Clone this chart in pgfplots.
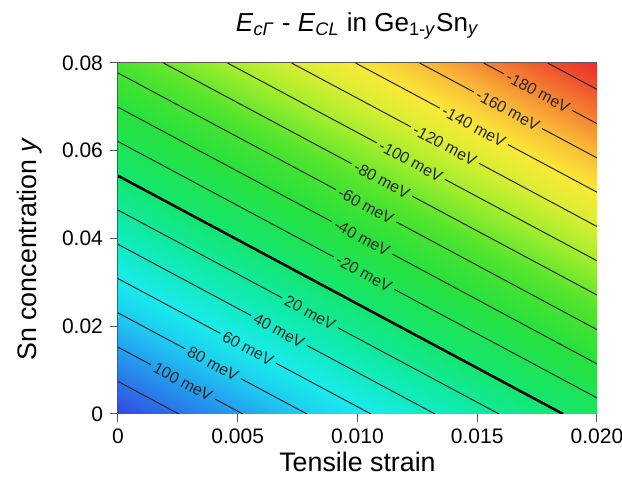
\documentclass[border=0pt]{standalone}
\usepackage{fontspec}
\setmainfont{Liberation Sans}
\usepackage{pgfplots}
\pgfplotsset{compat=1.18}
\usepackage{pgfplotstable}

% E_cGamma - E_CL (meV) on a strain x Sn grid
\pgfplotstableread{
x y f
0 0 139.0
0.0025 0 120.3
0.005 0 101.6
0.0075 0 82.9
0.01 0 64.2
0.0125 0 45.5
0.015 0 26.8
0.0175 0 8.1
0.02 0 -10.6
0 0.01 113.4
0.0025 0.01 94.7
0.005 0.01 76.0
0.0075 0.01 57.3
0.01 0.01 38.6
0.0125 0.01 19.9
0.015 0.01 1.2
0.0175 0.01 -17.5
0.02 0.01 -36.2
0 0.02 87.8
0.0025 0.02 69.1
0.005 0.02 50.4
0.0075 0.02 31.7
0.01 0.02 13.0
0.0125 0.02 -5.7
0.015 0.02 -24.4
0.0175 0.02 -43.1
0.02 0.02 -61.8
0 0.03 62.2
0.0025 0.03 43.5
0.005 0.03 24.8
0.0075 0.03 6.1
0.01 0.03 -12.6
0.0125 0.03 -31.3
0.015 0.03 -50.0
0.0175 0.03 -68.7
0.02 0.03 -87.4
0 0.04 36.6
0.0025 0.04 17.9
0.005 0.04 -0.8
0.0075 0.04 -19.5
0.01 0.04 -38.2
0.0125 0.04 -56.9
0.015 0.04 -75.6
0.0175 0.04 -94.3
0.02 0.04 -113.0
0 0.05 11.0
0.0025 0.05 -7.7
0.005 0.05 -26.4
0.0075 0.05 -45.1
0.01 0.05 -63.8
0.0125 0.05 -82.5
0.015 0.05 -101.2
0.0175 0.05 -119.9
0.02 0.05 -138.6
0 0.06 -14.6
0.0025 0.06 -33.3
0.005 0.06 -52.0
0.0075 0.06 -70.7
0.01 0.06 -89.4
0.0125 0.06 -108.1
0.015 0.06 -126.8
0.0175 0.06 -145.5
0.02 0.06 -164.2
0 0.07 -40.2
0.0025 0.07 -58.9
0.005 0.07 -77.6
0.0075 0.07 -96.3
0.01 0.07 -115.0
0.0125 0.07 -133.7
0.015 0.07 -152.4
0.0175 0.07 -171.1
0.02 0.07 -189.8
0 0.08 -65.8
0.0025 0.08 -84.5
0.005 0.08 -103.2
0.0075 0.08 -121.9
0.01 0.08 -140.6
0.0125 0.08 -159.3
0.015 0.08 -178.0
0.0175 0.08 -196.7
0.02 0.08 -215.4
}\gapdata

\newcommand\clab{\fontsize{8}{9}\selectfont}

\begin{document}
\begin{tikzpicture}
\begin{axis}[
  scale only axis, width=239.5pt, height=175.5pt,
  xmin=0, xmax=0.02, ymin=0, ymax=0.08,
  xtick={0,0.005,0.01,0.015,0.02},
  xticklabels={0,0.005,0.010,0.015,0.020},
  ytick={0,0.02,0.04,0.06,0.08},
  yticklabels={0,0.02,0.04,0.06,0.08},
  scaled ticks=false,
  tick align=outside, tick pos=left, major tick length=4pt,
  ticklabel style={font=\fontsize{10.5}{12}\selectfont},
  axis line style={gray!70!black, line width=0.5pt},
  every tick/.style={gray!70!black, line width=0.5pt},
  colormap={gapmap}{
    rgb255(0pt)=(232,35,40)
    rgb255(20pt)=(240,80,45)
    rgb255(40pt)=(245,135,50)
    rgb255(60pt)=(250,190,55)
    rgb255(80pt)=(250,232,55)
    rgb255(100pt)=(215,238,50)
    rgb255(120pt)=(165,238,45)
    rgb255(150pt)=(80,228,45)
    rgb255(180pt)=(40,225,60)
    rgb255(220pt)=(20,230,110)
    rgb255(250pt)=(15,235,175)
    rgb255(280pt)=(25,235,235)
    rgb255(300pt)=(30,205,240)
    rgb255(320pt)=(35,160,240)
    rgb255(360pt)=(50,70,225)
  },
  point meta min=-220, point meta max=140,
  title={\textit{E}\textsubscript{\textit{cΓ}} - \textit{E}\textsubscript{\textit{CL}} in Ge\textsubscript{1-\textit{y}}Sn\textsubscript{\textit{y}}},
  title style={at={(axis description cs:0.5,1.072)}, anchor=center, yshift=0pt, font=\fontsize{13}{15}\selectfont},
  xlabel={Tensile strain},
  xlabel style={at={(axis description cs:0.5,-0.137)}, anchor=center, font=\fontsize{13.4}{15}\selectfont},
  ylabel={Sn concentration \textit{y}},
  ylabel style={at={(axis description cs:-0.184,0.47)}, anchor=center, font=\fontsize{13.4}{15}\selectfont},
  cline/.style={black!85, line width=0.5pt, mark=none, solid, unbounded coords=jump},
]
\addplot[surf, shader=interp, mesh/cols=9, point meta=explicit]
  table[x=x, y=y, meta=f] {\gapdata};

% contour lines, 20 meV apart, cut where the label sits
\addplot[cline] coordinates {(0,0.00742) (0.00254,0)};
\addplot[cline] coordinates {(0,0.01523) (0.00138,0.011203) (nan,nan) (0.00404,0.003430) (0.005214,0)};
\addplot[cline] coordinates {(0,0.02305) (0.00281,0.014836) (nan,nan) (0.00513,0.008059) (0.007888,0)};
\addplot[cline] coordinates {(0,0.03086) (0.00427,0.018383) (nan,nan) (0.00659,0.011605) (0.010561,0)};
\addplot[cline] coordinates {(0,0.03867) (0.00556,0.022426) (nan,nan) (0.00788,0.015648) (0.013235,0)};
\addplot[cline] coordinates {(0,0.04648) (0.00686,0.026441) (nan,nan) (0.00918,0.019660) (0.015909,0)};
\addplot[cline, line width=1.3pt, black] coordinates {(0,0.05430) (0.018583,0)};
\addplot[cline] coordinates {(0,0.06211) (0.00901,0.035785) (nan,nan) (0.01153,0.028422) (0.02,0.003672)};
\addplot[cline] coordinates {(0,0.06992) (0.00893,0.043828) (nan,nan) (0.01145,0.036465) (0.02,0.01141)};
\addplot[cline] coordinates {(0,0.07773) (0.0091,0.051145) (nan,nan) (0.01162,0.043781) (0.02,0.01922)};
\addplot[cline] coordinates {(0.001898,0.08) (0.00976,0.057031) (nan,nan) (0.01228,0.049668) (0.02,0.02711)};
\addplot[cline] coordinates {(0.004572,0.08) (0.01081,0.061773) (nan,nan) (0.01365,0.053477) (0.02,0.03492)};
\addplot[cline] coordinates {(0.007246,0.08) (0.01223,0.065438) (nan,nan) (0.01507,0.057141) (0.02,0.04273)};
\addplot[cline] coordinates {(0.009920,0.08) (0.01344,0.069715) (nan,nan) (0.01628,0.061418) (0.02,0.05055)};
\addplot[cline] coordinates {(0.012594,0.08) (0.01486,0.073379) (nan,nan) (0.01770,0.065078) (0.02,0.05836)};
\addplot[cline] coordinates {(0.015267,0.08) (0.01612,0.077508) (nan,nan) (0.01896,0.069211) (0.02,0.06617)};
\addplot[cline] coordinates {(0.017941,0.08) (0.02,0.07398)};

\begin{scope}[every node/.style={rotate=-28.2, font=\clab, text=black!85, inner sep=0pt}]
\node at (axis cs:0.00271,0.007316) {100 meV};
\node at (axis cs:0.00397,0.011447) {80 meV};
\node at (axis cs:0.00543,0.014994) {60 meV};
\node at (axis cs:0.00672,0.019035) {40 meV};
\node at (axis cs:0.00802,0.023051) {20 meV};
\node at (axis cs:0.01027,0.032102) {-20 meV};
\node at (axis cs:0.01019,0.040148) {-40 meV};
\node at (axis cs:0.01036,0.047465) {-60 meV};
\node at (axis cs:0.01102,0.053348) {-80 meV};
\node at (axis cs:0.01223,0.057625) {-100 meV};
\node at (axis cs:0.01365,0.061289) {-120 meV};
\node at (axis cs:0.01486,0.065566) {-140 meV};
\node at (axis cs:0.01628,0.069230) {-160 meV};
\node at (axis cs:0.01754,0.073359) {-180 meV};
\end{scope}

\coordinate (bl) at (rel axis cs:0,0);
\coordinate (tr) at (rel axis cs:1,1);
\end{axis}
\pgfresetboundingbox
\path[use as bounding box] ([shift={(-59pt,-35pt)}]bl) rectangle ([shift={(12.5pt,31.5pt)}]tr);
\end{tikzpicture}
\end{document}
